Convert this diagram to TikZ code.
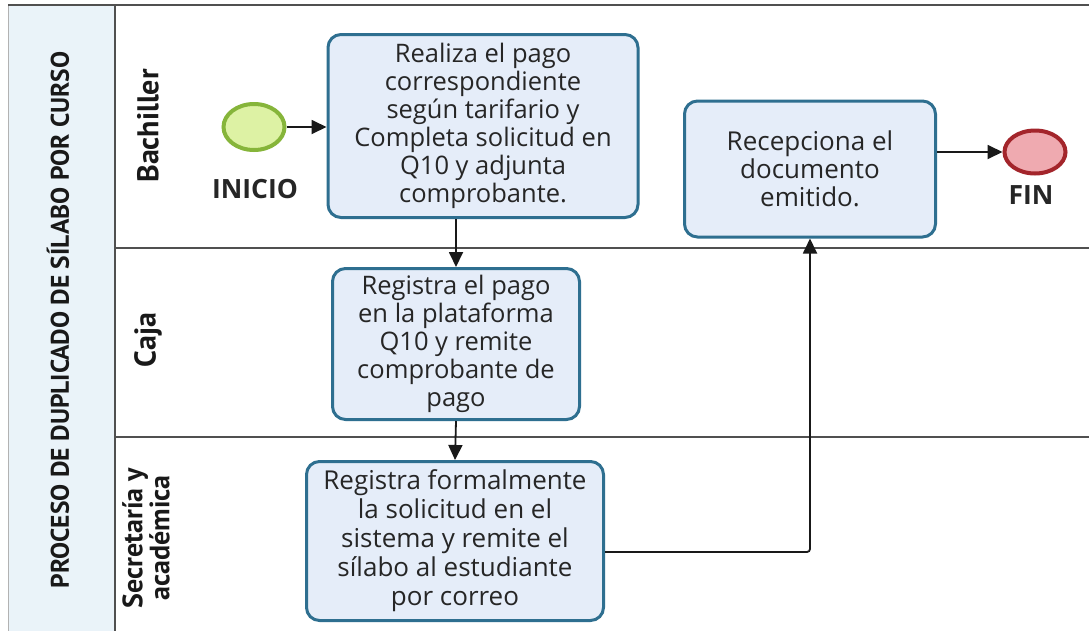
\documentclass[tikz,border=0pt]{standalone}
\usepackage{fontspec}
\setmainfont{Open Sans}
\newfontfamily\lanefont{PT Sans}
\usetikzlibrary{arrows.meta,shapes.geometric}
\definecolor{poolblue}{HTML}{EAF3F9}
\definecolor{taskfill}{HTML}{E5EDF9}
\definecolor{taskborder}{HTML}{2E6F90}
\definecolor{startfill}{HTML}{DDF2A4}
\definecolor{startborder}{HTML}{86B53A}
\definecolor{endfill}{HTML}{EFAAB0}
\definecolor{endborder}{HTML}{A3252B}
\definecolor{laneline}{HTML}{505050}
\tikzset{
  task/.style={rectangle, rounded corners=13pt, draw=taskborder, line width=3pt,
    fill=taskfill, align=center, inner sep=0pt,
    font=\fontsize{25.5}{28}\selectfont, text=black!85},
  startev/.style={ellipse, draw=startborder, fill=startfill, line width=4pt,
    minimum width=61pt, minimum height=46pt, inner sep=0pt},
  endev/.style={ellipse, draw=endborder, fill=endfill, line width=4pt,
    minimum width=61pt, minimum height=43pt, inner sep=0pt},
  evlabel/.style={font=\bfseries\fontsize{26.5}{28}\selectfont, text=black!85},
  lanelabel/.style={font=\lanefont\bfseries\fontsize{30}{27}\selectfont, rotate=90, align=center, text=black!90},
  lanesep/.style={draw=laneline, line width=2.2pt},
  flow/.style={draw=black!90, line width=1.8pt, -{Triangle[length=15pt,width=14pt]}}
}
\begin{document}
\begin{tikzpicture}[x=1pt,y=-1pt]
\useasboundingbox (0,0) rectangle (1089,630);
\fill[white] (0,0) rectangle (1089,630);
% pool header
\filldraw[fill=poolblue, draw=black!30, line width=1pt] (8,5) rectangle (115,632);
\draw[lanesep] (8,5) -- (1089,5);
\draw[lanesep] (115,5) -- (115,632);
\draw[lanesep] (115,248) -- (1089,248);
\draw[lanesep] (115,437) -- (1089,437);
% titles
\node[lanelabel, font=\lanefont\bfseries\fontsize{25.5}{28}\selectfont] (pool) at (58,320) {PROCESO DE DUPLICADO DE SÍLABO POR CURSO};
\node[lanelabel] (l1) at (148,126) {Bachiller};
\node[lanelabel] (l2) at (148,340) {Caja};
\node[lanelabel, font=\lanefont\bfseries\fontsize{28}{27}\selectfont] (l3) at (146,538) {Secretaría y\\académica};
% events
\node[startev] (start) at (254,127) {};
\node[evlabel] (startlbl) at (255,189) {INICIO};
\node[endev] (end) at (1035,152) {};
\node[evlabel] (endlbl) at (1031,195) {FIN};
% tasks
\node[task, minimum width=310pt, minimum height=183pt] (t1) at (483,126)
  {Realiza el pago\\correspondiente\\según tarifario y\\Completa solicitud en\\Q10 y adjunta\\comprobante.};
\node[task, minimum width=247pt, minimum height=151pt] (t2) at (456,344)
  {Registra el pago\\en la plataforma\\Q10 y remite\\comprobante de\\pago};
\node[task, minimum width=297pt, minimum height=159pt, font=\fontsize{26}{29}\selectfont] (t3) at (455,541)
  {Registra formalmente\\la solicitud en el\\sistema y remite el\\sílabo al estudiante\\por correo};
\node[task, minimum width=251pt, minimum height=136pt, font=\fontsize{26}{28}\selectfont] (t4) at (810,169)
  {Recepciona el\\documento\\emitido.};
% connectors
\draw[flow] (start) -- (t1.west |- start);
\draw[flow] (t1.south -| t2.north) -- (t2.north);
\draw[flow] (t2.south) -- (t3.north);
\coordinate (c1) at (810,552);
\draw[flow, rounded corners=3pt] (t3.east |- c1) -- (c1) -- (t4.south);
\draw[flow] (t4.east |- end) -- (end.west);
\end{tikzpicture}
\end{document}
